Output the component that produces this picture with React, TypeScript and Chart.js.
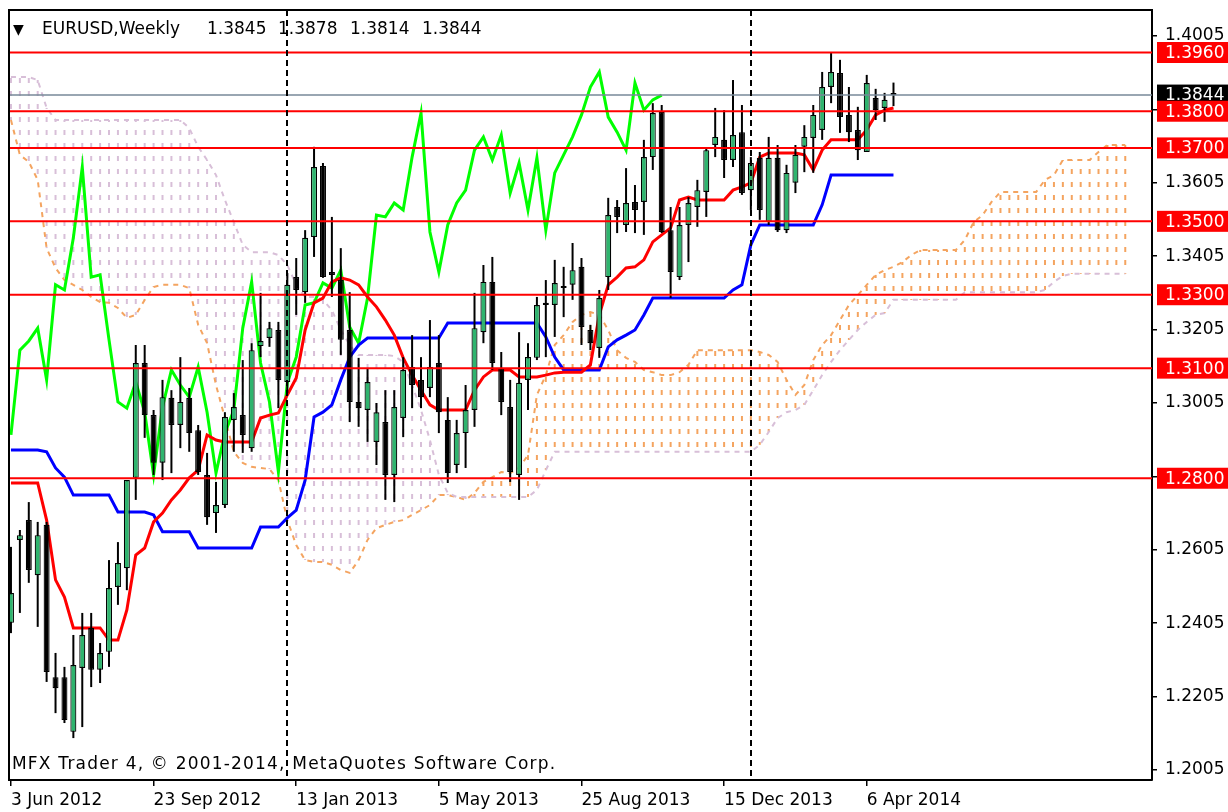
import React, { useEffect, useRef } from 'react';
import { Chart, registerables } from 'chart.js';

Chart.register(...registerables);

const titleTokens = ['\u25BC', 'EURUSD,Weekly', '1.3845', '1.3878', '1.3814', '1.3844'];
const titleTokenOffsets = [4, 33, 198, 269, 341, 413];
const copyright = 'MFX Trader 4, \u00A9 2001-2014, MetaQuotes Software Corp.';

const dateLabels = ['3 Jun 2012', '23 Sep 2012', '13 Jan 2013', '5 May 2013', '25 Aug 2013', '15 Dec 2013', '6 Apr 2014'];
const dateLabelBars = [0, 16, 32, 48, 64, 80, 96];
const priceTicks = [1.2005, 1.2205, 1.2405, 1.2605, 1.2805, 1.3005, 1.3205, 1.3405, 1.3605, 1.3805, 1.4005];
const levelLines = [1.396, 1.38, 1.37, 1.35, 1.33, 1.31, 1.28];
const currentPrice = 1.3844;
const separatorBars = [31, 83];
const chikouShift = 26;

const opens = [
  1.2406, 1.2632, 1.2686, 1.2536, 1.2673, 1.2258, 1.2258, 1.2109, 1.2283, 1.2392,
  1.2278, 1.2327, 1.2504, 1.2555, 1.2801, 1.3114, 1.2972, 1.2842, 1.3019, 1.2945,
  1.3019, 1.2931, 1.2809, 1.2705, 1.2727, 1.2959, 1.2972, 1.2882, 1.3160, 1.3182,
  1.3204, 1.3062, 1.3348, 1.3307, 1.3457, 1.3651, 1.3362, 1.3340, 1.3204, 1.3008,
  1.2986, 1.2899, 1.2953, 1.2809, 1.2964, 1.3103, 1.3068, 1.3046, 1.3114, 1.2959,
  1.2836, 1.2923, 1.2986, 1.3198, 1.3335, 1.3100, 1.2994, 1.2809, 1.3068, 1.3128,
  1.3272, 1.3272, 1.3321, 1.3327, 1.3376, 1.3204, 1.3155, 1.3348, 1.3539, 1.3490,
  1.3553, 1.3553, 1.3675, 1.3798, 1.3476, 1.3348, 1.3490, 1.3539, 1.3580, 1.3708,
  1.3722, 1.3667, 1.3743, 1.3585, 1.3673, 1.3498, 1.3673, 1.3476, 1.3605, 1.3703,
  1.3727, 1.3749, 1.3866, 1.3904, 1.3790, 1.3749, 1.3689, 1.3836, 1.3809, 1.3845,
];
const highs = [
  1.2613, 1.2659, 1.2735, 1.2681, 1.2681, 1.2324, 1.2286, 1.2373, 1.2433, 1.2433,
  1.2351, 1.2577, 1.2626, 1.2795, 1.3163, 1.3163, 1.2986, 1.3068, 1.3040, 1.3130,
  1.3046, 1.2945, 1.2869, 1.2790, 1.2980, 1.3032, 1.3122, 1.3168, 1.3305, 1.3226,
  1.3226, 1.3359, 1.3400, 1.3476, 1.3703, 1.3659, 1.3512, 1.3427, 1.3307, 1.3128,
  1.3100, 1.3005, 1.3040, 1.3040, 1.3130, 1.3190, 1.3130, 1.3231, 1.3190, 1.3021,
  1.2959, 1.3054, 1.3305, 1.3381, 1.3403, 1.3144, 1.3068, 1.3198, 1.3168, 1.3294,
  1.3340, 1.3395, 1.3376, 1.3441, 1.3400, 1.3218, 1.3313, 1.3564, 1.3558, 1.3645,
  1.3599, 1.3722, 1.3822, 1.3817, 1.3539, 1.3539, 1.3566, 1.3613, 1.3700, 1.3809,
  1.3803, 1.3885, 1.3817, 1.3675, 1.3689, 1.3730, 1.3708, 1.3654, 1.3708, 1.3762,
  1.3817, 1.3907, 1.3961, 1.3940, 1.3866, 1.3812, 1.3899, 1.3861, 1.3850, 1.3878,
];
const lows = [
  1.2378, 1.2433, 1.2515, 1.2395, 1.2245, 1.2160, 1.2133, 1.2092, 1.2122, 1.2231,
  1.2242, 1.2286, 1.2455, 1.2495, 1.2741, 1.2910, 1.2809, 1.2795, 1.2814, 1.2882,
  1.2872, 1.2809, 1.2673, 1.2651, 1.2719, 1.2872, 1.2869, 1.2872, 1.3130, 1.3158,
  1.2991, 1.3032, 1.3245, 1.3278, 1.3403, 1.3346, 1.3294, 1.3136, 1.2953, 1.2940,
  1.2899, 1.2836, 1.2741, 1.2735, 1.2912, 1.2991, 1.2991, 1.3021, 1.2923, 1.2787,
  1.2814, 1.2828, 1.2940, 1.3168, 1.3095, 1.2972, 1.2790, 1.2741, 1.2986, 1.3122,
  1.3130, 1.3185, 1.3239, 1.3286, 1.3163, 1.3149, 1.3128, 1.3313, 1.3468, 1.3471,
  1.3468, 1.3463, 1.3640, 1.3468, 1.3291, 1.3340, 1.3389, 1.3485, 1.3512, 1.3675,
  1.3618, 1.3648, 1.3572, 1.3531, 1.3504, 1.3490, 1.3471, 1.3468, 1.3577, 1.3634,
  1.3632, 1.3722, 1.3822, 1.3741, 1.3716, 1.3667, 1.3689, 1.3776, 1.3771, 1.3814,
];
const closes = [
  1.2487, 1.2645, 1.2550, 1.2645, 1.2272, 1.2228, 1.2141, 1.2291, 1.2373, 1.2278,
  1.2324, 1.2501, 1.2569, 1.2795, 1.3114, 1.2972, 1.2842, 1.3021, 1.2945, 1.3008,
  1.2923, 1.2817, 1.2694, 1.2727, 1.2967, 1.2994, 1.2918, 1.3149, 1.3174, 1.3209,
  1.3068, 1.3327, 1.3313, 1.3455, 1.3648, 1.3348, 1.3354, 1.3177, 1.3008, 1.2991,
  1.3062, 1.2980, 1.2809, 1.2994, 1.3095, 1.3054, 1.3021, 1.3103, 1.2980, 1.2814,
  1.2923, 1.2986, 1.3209, 1.3335, 1.3114, 1.3008, 1.2817, 1.3060, 1.3130, 1.3272,
  1.3278, 1.3332, 1.3318, 1.3367, 1.3212, 1.3168, 1.3291, 1.3517, 1.3512, 1.3550,
  1.3531, 1.3675, 1.3795, 1.3471, 1.3362, 1.3490, 1.3550, 1.3585, 1.3694, 1.3730,
  1.3667, 1.3735, 1.3577, 1.3659, 1.3531, 1.3673, 1.3476, 1.3632, 1.3681, 1.3730,
  1.3790, 1.3866, 1.3907, 1.3784, 1.3743, 1.3694, 1.3877, 1.3803, 1.3831, 1.3844,
];

const tenkan = [
  1.2787, 1.2787, 1.2787, 1.2787, 1.2686, 1.2523, 1.2476, 1.2392, 1.2392, 1.2392,
  1.2392, 1.2359, 1.2359, 1.2441, 1.2591, 1.2610, 1.2681, 1.2705, 1.2741, 1.2768,
  1.2801, 1.2822, 1.2918, 1.2904, 1.2899, 1.2899, 1.2899, 1.2899, 1.2964, 1.2972,
  1.2978, 1.3027, 1.3073, 1.3204, 1.3278, 1.3291, 1.3335, 1.3346, 1.3340, 1.3327,
  1.3294, 1.3267, 1.3231, 1.3190, 1.3128, 1.3081, 1.3040, 1.3000, 1.2986, 1.2986,
  1.2986, 1.2986, 1.3040, 1.3076, 1.3095, 1.3095, 1.3095, 1.3076, 1.3076, 1.3076,
  1.3081, 1.3087, 1.3089, 1.3089, 1.3089, 1.3109, 1.3245, 1.3327, 1.3348, 1.3373,
  1.3376, 1.3395, 1.3444, 1.3463, 1.3482, 1.3558, 1.3566, 1.3558, 1.3558, 1.3558,
  1.3558, 1.3585, 1.3594, 1.3605, 1.3675, 1.3686, 1.3686, 1.3686, 1.3686, 1.3681,
  1.3640, 1.3694, 1.3722, 1.3722, 1.3722, 1.3722, 1.3749, 1.3790, 1.3803, 1.3809,
];
const kijun = [
  1.2877, 1.2877, 1.2877, 1.2877, 1.2872, 1.2828, 1.2803, 1.2754, 1.2754, 1.2754,
  1.2754, 1.2754, 1.2708, 1.2708, 1.2708, 1.2708, 1.2700, 1.2654, 1.2654, 1.2654,
  1.2654, 1.2610, 1.2610, 1.2610, 1.2610, 1.2610, 1.2610, 1.2610, 1.2667, 1.2667,
  1.2667, 1.2692, 1.2713, 1.2795, 1.2967, 1.2980, 1.3000, 1.3068, 1.3130, 1.3163,
  1.3182, 1.3182, 1.3182, 1.3182, 1.3182, 1.3182, 1.3182, 1.3182, 1.3182, 1.3223,
  1.3223, 1.3223, 1.3223, 1.3223, 1.3223, 1.3223, 1.3223, 1.3223, 1.3223, 1.3223,
  1.3185, 1.3130, 1.3095, 1.3095, 1.3095, 1.3095, 1.3095, 1.3158, 1.3177, 1.3190,
  1.3204, 1.3245, 1.3291, 1.3291, 1.3291, 1.3291, 1.3291, 1.3291, 1.3291, 1.3291,
  1.3291, 1.3313, 1.3327, 1.3436, 1.3490, 1.3490, 1.3490, 1.3490, 1.3490, 1.3490,
  1.3490, 1.3545, 1.3626, 1.3626, 1.3626, 1.3626, 1.3626, 1.3626, 1.3626, 1.3626,
];
const spanA = [
  1.3776, 1.3681, 1.3662, 1.3613, 1.3427, 1.3373, 1.3340, 1.3327, 1.3313, 1.3294,
  1.3280, 1.3278, 1.3264, 1.3237, 1.3245, 1.3286, 1.3321, 1.3327, 1.3327, 1.3327,
  1.3318, 1.3218, 1.3168, 1.3054, 1.2964, 1.2872, 1.2842, 1.2831, 1.2828, 1.2825,
  1.2795, 1.2686, 1.2618, 1.2577, 1.2572, 1.2572, 1.2564, 1.2550, 1.2542, 1.2577,
  1.2632, 1.2664, 1.2673, 1.2681, 1.2686, 1.2700, 1.2713, 1.2727, 1.2754, 1.2754,
  1.2749, 1.2741, 1.2760, 1.2790, 1.2803, 1.2817, 1.2814, 1.2828, 1.2863, 1.3027,
  1.3081, 1.3163, 1.3190, 1.3226, 1.3245, 1.3253, 1.3245, 1.3204, 1.3149, 1.3128,
  1.3117, 1.3095, 1.3089, 1.3081, 1.3081, 1.3089, 1.3109, 1.3149, 1.3149, 1.3149,
  1.3149, 1.3149, 1.3149, 1.3149, 1.3144, 1.3136, 1.3117, 1.3068, 1.3027, 1.3054,
  1.3122, 1.3163, 1.3190, 1.3231, 1.3272, 1.3299, 1.3327, 1.3354, 1.3367, 1.3376,
  1.3389, 1.3408, 1.3422, 1.3422, 1.3422, 1.3422, 1.3422, 1.3449, 1.3498, 1.3517,
  1.3553, 1.3580, 1.3580, 1.3580, 1.3580, 1.3580, 1.3613, 1.3626, 1.3667, 1.3667,
  1.3667, 1.3667, 1.3689, 1.3708, 1.3708, 1.3708,
];
const spanB = [
  1.3893, 1.3893, 1.3893, 1.3885, 1.3809, 1.3776, 1.3776, 1.3776, 1.3776, 1.3776,
  1.3776, 1.3776, 1.3776, 1.3776, 1.3776, 1.3776, 1.3776, 1.3776, 1.3776, 1.3776,
  1.3754, 1.3703, 1.3667, 1.3626, 1.3558, 1.3498, 1.3436, 1.3416, 1.3416, 1.3416,
  1.3408, 1.3381, 1.3327, 1.3294, 1.3294, 1.3286, 1.3258, 1.3204, 1.3163, 1.3136,
  1.3136, 1.3136, 1.3136, 1.3133, 1.3117, 1.3054, 1.2986, 1.2904, 1.2809, 1.2760,
  1.2749, 1.2749, 1.2749, 1.2749, 1.2749, 1.2749, 1.2749, 1.2749, 1.2749, 1.2768,
  1.2822, 1.2872, 1.2872, 1.2872, 1.2872, 1.2872, 1.2872, 1.2872, 1.2872, 1.2872,
  1.2872, 1.2872, 1.2872, 1.2872, 1.2872, 1.2872, 1.2872, 1.2872, 1.2872, 1.2872,
  1.2872, 1.2872, 1.2872, 1.2872, 1.2891, 1.2926, 1.2964, 1.2980, 1.2986, 1.3000,
  1.3040, 1.3081, 1.3117, 1.3149, 1.3177, 1.3204, 1.3226, 1.3245, 1.3250, 1.3286,
  1.3286, 1.3286, 1.3286, 1.3286, 1.3286, 1.3286, 1.3286, 1.3307, 1.3307, 1.3307,
  1.3307, 1.3307, 1.3307, 1.3307, 1.3307, 1.3307, 1.3313, 1.3335, 1.3351, 1.3357,
  1.3357, 1.3357, 1.3357, 1.3357, 1.3357, 1.3357,
];

const FONT = '"DejaVu Sans", "Noto Sans", sans-serif';
const BULL = '#2FB46E';
const SANDY = '#F4A460';
const THISTLE = '#D8BFD8';

function hatch(color: string): CanvasPattern | string {
  const c = document.createElement('canvas');
  c.width = 2;
  c.height = 13;
  const g = c.getContext('2d');
  if (!g) return color;
  g.fillStyle = color;
  g.fillRect(0, 0, 2, 5);
  return g.createPattern(c, 'repeat') || color;
}

const overlayPlugin = {
  id: 'mt4Overlay',
  afterDatasetsDraw(chart: any) {
    const { ctx, chartArea, scales } = chart;
    const xs = scales.x;
    ctx.save();
    ctx.strokeStyle = '#000';
    ctx.lineWidth = 2;
    ctx.setLineDash([6, 4]);
    for (const b of separatorBars) {
      const px = Math.round(xs.getPixelForValue(b));
      ctx.beginPath();
      ctx.moveTo(px, chartArea.top);
      ctx.lineTo(px, chartArea.bottom);
      ctx.stroke();
    }
    ctx.restore();
  },
  afterDraw(chart: any) {
    const { ctx, chartArea, scales } = chart;
    const ys = scales.y;
    ctx.save();
    ctx.setLineDash([]);
    ctx.strokeStyle = '#000';
    ctx.lineWidth = 2;
    ctx.beginPath();
    ctx.moveTo(chartArea.left, chartArea.bottom);
    ctx.lineTo(chartArea.left, chartArea.top);
    ctx.lineTo(chartArea.right, chartArea.top);
    ctx.stroke();

    ctx.font = '17px ' + FONT;
    ctx.fillStyle = '#000';
    ctx.textBaseline = 'middle';
    ctx.textAlign = 'left';
    titleTokens.forEach((t, k) => {
      ctx.font = (k === 0 ? '14px ' : '17px ') + FONT;
      ctx.fillText(t, chartArea.left + titleTokenOffsets[k], chartArea.top + 20);
    });

    ctx.font = '17px ' + FONT;
    const target = 543;
    const w = ctx.measureText(copyright).width;
    const spacing = Math.max(0, (target - w) / (copyright.length - 1));
    if ('letterSpacing' in ctx) {
      (ctx as any).letterSpacing = spacing.toFixed(2) + 'px';
    }
    ctx.fillText(copyright, chartArea.left + 3, chartArea.bottom - 15);
    if ('letterSpacing' in ctx) {
      (ctx as any).letterSpacing = '0px';
    }

    const boxX = chartArea.right + 5;
    const boxW = chart.width - boxX;
    const boxH = 21;
    const drawBox = (v: number, bg: string) => {
      const py = ys.getPixelForValue(v);
      ctx.fillStyle = bg;
      ctx.fillRect(boxX, py - boxH / 2, boxW, boxH);
      ctx.fillStyle = '#fff';
      ctx.fillText(v.toFixed(4), chartArea.right + 13, py + 1);
    };
    drawBox(currentPrice, '#000');
    levelLines.forEach((v) => drawBox(v, '#FF0000'));
    ctx.restore();
  },
};

export default function App() {
  const ref = useRef<HTMLCanvasElement>(null);

  useEffect(() => {
    const canvas = ref.current;
    if (!canvas) return;
    const idx = opens.map((_, i) => i);
    const orangeHatch = hatch(SANDY);
    const thistleHatch = hatch(THISTLE);

    const lineDs = (data: { x: number; y: number }[], color: string, width: number, order: number, dash: number[] = []) => ({
      type: 'line' as const,
      data,
      borderColor: color,
      backgroundColor: color,
      borderWidth: width,
      borderDash: dash,
      pointRadius: 0,
      pointHoverRadius: 0,
      tension: 0,
      fill: false,
      order,
    });

    const datasets: any[] = [
      {
        type: 'bar',
        data: spanA.map((a, i) => ({ x: i, y: [a, spanB[i]] })),
        backgroundColor: spanA.map((a, i) => (a > spanB[i] ? orangeHatch : thistleHatch)),
        borderWidth: 0,
        maxBarThickness: 2,
        grouped: false,
        order: 20,
      },
      lineDs(spanA.map((v, i) => ({ x: i, y: v })), SANDY, 2, 19, [5, 5]),
      lineDs(spanB.map((v, i) => ({ x: i, y: v })), THISTLE, 2, 18, [5, 5]),
      lineDs(closes.slice(chikouShift).map((v, i) => ({ x: i, y: v })), '#00FF00', 3, 12),
      lineDs(kijun.map((v, i) => ({ x: i, y: v })), '#0000FF', 3, 11),
      lineDs(tenkan.map((v, i) => ({ x: i, y: v })), '#FF0000', 3, 10),
      {
        type: 'bar',
        data: idx.map((i) => ({ x: i, y: [lows[i], highs[i]] })),
        backgroundColor: '#000',
        borderWidth: 0,
        maxBarThickness: 2,
        grouped: false,
        order: 5,
      },
      {
        type: 'bar',
        data: idx.map((i) => ({ x: i, y: [opens[i], closes[i]] })),
        backgroundColor: idx.map((i) => (closes[i] >= opens[i] ? BULL : '#000')),
        borderColor: '#000',
        borderWidth: 1.2,
        borderSkipped: false,
        minBarLength: 2,
        maxBarThickness: 6,
        grouped: false,
        order: 4,
      },
      lineDs([{ x: -5, y: currentPrice }, { x: 200, y: currentPrice }], '#778899', 1.5, 3),
      ...levelLines.map((v) => lineDs([{ x: -5, y: v }, { x: 200, y: v }], '#FF0000', 2, 2)),
    ];

    const chart = new Chart(canvas, {
      type: 'bar',
      data: { datasets },
      options: {
        animation: false,
        responsive: false,
        maintainAspectRatio: false,
        events: [],
        layout: { autoPadding: false, padding: { left: 9, top: 10, right: 0, bottom: 0 } },
        plugins: { legend: { display: false }, tooltip: { enabled: false } },
        scales: {
          x: {
            type: 'linear',
            min: -0.22,
            max: 128,
            bounds: 'data',
            offset: false,
            grid: { offset: false, drawOnChartArea: false, drawTicks: true, tickLength: 6, color: '#000', lineWidth: 1.5 },
            border: { display: true, color: '#000', width: 2 },
            afterBuildTicks: (s: any) => {
              s.ticks = dateLabelBars.map((v) => ({ value: v }));
            },
            afterFit: (s: any) => {
              s.height = 32;
              s.paddingLeft = 0;
              s.paddingRight = 0;
            },
            ticks: {
              autoSkip: false,
              maxRotation: 0,
              minRotation: 0,
              align: 'start',
              padding: 4,
              color: '#000',
              font: { family: FONT, size: 17 },
              callback: (v: any) => {
                const k = dateLabelBars.indexOf(Number(v));
                return k >= 0 ? dateLabels[k] : '';
              },
            },
          },
          y: {
            type: 'linear',
            position: 'right',
            min: 1.19778,
            max: 1.40758,
            bounds: 'data',
            beginAtZero: false,
            grid: { drawOnChartArea: false, drawTicks: true, tickLength: 5, color: '#000', lineWidth: 1.5 },
            border: { display: true, color: '#000', width: 2 },
            afterBuildTicks: (s: any) => {
              s.ticks = priceTicks.map((v) => ({ value: v }));
            },
            afterFit: (s: any) => {
              s.width = 76;
              s.paddingTop = 0;
              s.paddingBottom = 0;
            },
            ticks: {
              autoSkip: false,
              padding: 8,
              color: '#000',
              font: { family: FONT, size: 17 },
              callback: (v: any) => Number(v).toFixed(4),
            },
          },
        },
      } as any,
      plugins: [overlayPlugin],
    });

    return () => chart.destroy();
  }, []);

  return (
    <div style={{ position: 'fixed', left: 0, top: 0, width: 1228, height: 812, background: '#fff' }}>
      <canvas ref={ref} width={1228} height={812} style={{ display: 'block', width: 1228, height: 812 }} />
    </div>
  );
}
